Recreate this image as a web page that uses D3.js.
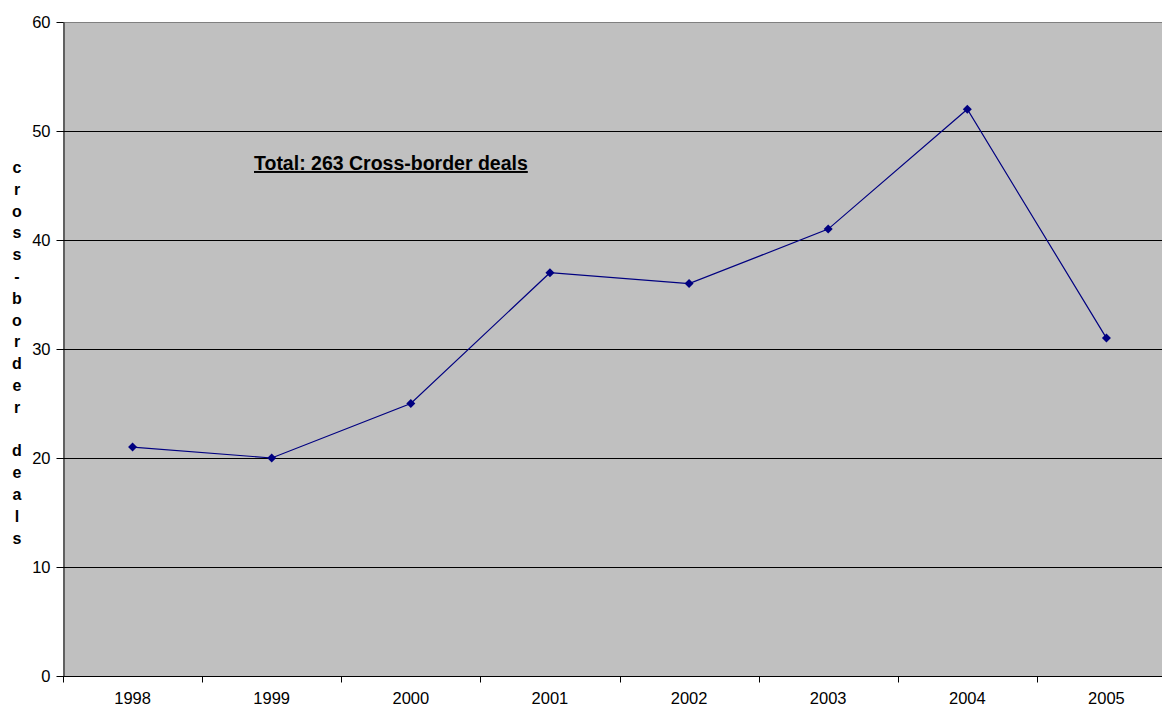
<!DOCTYPE html>
<html>
<head>
<meta charset="utf-8">
<script src="https://cdn.jsdelivr.net/npm/d3@7"></script>
<style>
  body { margin: 0; background: #fff; }
  text { font-family: "Liberation Sans", Arial, sans-serif; }
</style>
</head>
<body>
<svg id="chart" width="1162" height="708"></svg>
<script>
"use strict";

// chart data
var years = ['1998', '1999', '2000', '2001', '2002', '2003', '2004', '2005'];
var deals = [21, 20, 25, 37, 36, 41, 52, 31];
var yTicks = [0, 10, 20, 30, 40, 50, 60];
var yLabel = 'cross-border deals';
var note = 'Total: 263 Cross-border deals';

var svg = d3.select('#chart');
var margin = { left: 63, top: 22, right: 1176, bottom: 676 };

var x = d3.scaleBand().domain(years).range([margin.left, margin.right]);
var y = d3.scaleLinear().domain([0, 60]).range([margin.bottom, margin.top]);

// plot area
svg.append('rect')
  .attr('x', margin.left).attr('y', margin.top)
  .attr('width', margin.right - margin.left)
  .attr('height', margin.bottom - margin.top)
  .attr('fill', '#c0c0c0');

// gridlines
svg.append('g').selectAll('line')
  .data(yTicks.filter(function(d) { return d > 0; }))
  .enter().append('line')
  .attr('x1', margin.left).attr('x2', margin.right)
  .attr('y1', function(d) { return Math.round(y(d)) + 0.5; })
  .attr('y2', function(d) { return Math.round(y(d)) + 0.5; })
  .attr('stroke', function(d) { return d === 60 ? '#808080' : '#000'; })
  .attr('stroke-width', 1);

// y axis
var yAxis = svg.append('g')
  .attr('transform', 'translate(' + (margin.left + 0.5) + ',0)')
  .call(d3.axisLeft(y).tickValues(yTicks).tickSize(7).tickSizeOuter(0).tickPadding(6));
yAxis.select('.domain').attr('stroke', '#000');
yAxis.selectAll('text').attr('font-size', 16.5).attr('fill', '#000')
  .attr('font-family', '"Liberation Sans", Arial, sans-serif');

// x axis, ticks on band edges
var xAxis = svg.append('g').attr('transform', 'translate(0,' + (margin.bottom + 0.5) + ')');
xAxis.append('line')
  .attr('x1', margin.left).attr('x2', margin.right)
  .attr('stroke', '#000');
xAxis.selectAll('line.tick')
  .data(years)
  .enter().append('line')
  .attr('class', 'tick')
  .attr('x1', function(d) { return Math.round(x(d)) + 0.5; })
  .attr('x2', function(d) { return Math.round(x(d)) + 0.5; })
  .attr('y1', 0).attr('y2', 6)
  .attr('stroke', '#000');
xAxis.selectAll('text')
  .data(years)
  .enter().append('text')
  .attr('x', function(d) { return x(d) + x.bandwidth() / 2; })
  .attr('y', 27.5)
  .attr('text-anchor', 'middle')
  .attr('font-size', 16.5)
  .text(function(d) { return d; });

// series line
var cx = function(d, i) { return x(years[i]) + x.bandwidth() / 2; };
svg.append('path')
  .datum(deals)
  .attr('fill', 'none')
  .attr('stroke', '#000080')
  .attr('stroke-width', 1.2)
  .attr('d', d3.line().x(cx).y(function(d) { return y(d); }));

// diamond markers
svg.append('g').selectAll('path')
  .data(deals)
  .enter().append('path')
  .attr('d', 'M0,-4.5L4.5,0L0,4.5L-4.5,0Z')
  .attr('fill', '#000080')
  .attr('transform', function(d, i) { return 'translate(' + cx(d, i) + ',' + y(d) + ')'; });

// stacked vertical axis title
svg.append('g').selectAll('text')
  .data(yLabel.split(''))
  .enter().append('text')
  .attr('x', 17)
  .attr('y', function(d, i) { return 173 + i * 21.8; })
  .attr('text-anchor', 'middle')
  .attr('font-size', 16)
  .attr('font-weight', 'bold')
  .text(function(d) { return d; });

// annotation
svg.append('text')
  .attr('x', 254).attr('y', 170)
  .attr('font-size', 19.5)
  .attr('font-weight', 'bold')
  .attr('text-decoration', 'underline')
  .attr('fill', '#000')
  .text(note);
</script>
</body>
</html>
